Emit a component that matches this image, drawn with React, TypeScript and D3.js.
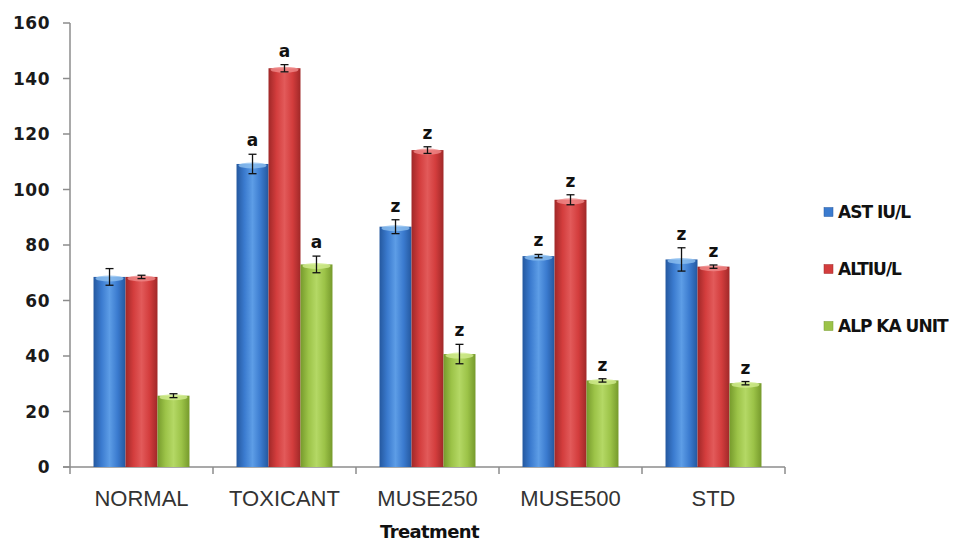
import React from "react";
import * as d3 from "d3";

const categories = ["NORMAL", "TOXICANT", "MUSE250", "MUSE500", "STD"];
const seriesNames = ["AST IU/L", "ALTIU/L", "ALP KA UNIT"];
const astValues = [68.5, 109.2, 86.6, 76.0, 74.8];
const altValues = [68.5, 143.7, 114.2, 96.3, 72.2];
const alpValues = [25.7, 73.0, 40.7, 31.2, 30.2];
const astErr = [3.0, 3.5, 2.5, 0.6, 4.2];
const altErr = [0.6, 1.3, 1.2, 1.8, 0.6];
const alpErr = [0.7, 3.0, 3.5, 0.6, 0.6];
const astLetters = ["", "a", "z", "z", "z"];
const altLetters = ["", "a", "z", "z", "z"];
const alpLetters = ["", "a", "z", "z", "z"];
const yTicks = [0, 20, 40, 60, 80, 100, 120, 140, 160];

const W = 958;
const H = 542;
const left = 70;
const right = 785;
const top = 23;
const bottom = 467;

const colors = [
  { base: "#3b7bcf", dark: "#24589f", light: "#5d9de6", cap: "#8fc0f0" },
  { base: "#d33d3d", dark: "#a02828", light: "#e25a5a", cap: "#f08a8a" },
  { base: "#9cc348", dark: "#769a2c", light: "#b4d865", cap: "#d2ec90" },
];

export default function App() {
  const values = [astValues, altValues, alpValues];
  const errs = [astErr, altErr, alpErr];
  const letters = [astLetters, altLetters, alpLetters];

  const y = d3.scaleLinear().domain([0, 160]).range([bottom, top]);
  const x0 = d3
    .scaleBand<string>()
    .domain(categories)
    .range([left, right])
    .paddingInner(0.329)
    .paddingOuter(0.1645);
  const x1 = d3
    .scaleBand<number>()
    .domain([0, 1, 2])
    .range([0, x0.bandwidth()]);
  const step = x0.step();
  const boundaries = d3.range(categories.length + 1).map((i) => left + i * step);

  return (
    <svg
      width={W}
      height={H}
      style={{ position: "absolute", left: 0, top: 0, background: "#fff" }}
    >
      <defs>
        {colors.map((c, i) => (
          <linearGradient key={i} id={`g${i}`} x1="0" x2="1" y1="0" y2="0">
            <stop offset="0" stopColor={c.dark} />
            <stop offset="0.25" stopColor={c.base} />
            <stop offset="0.5" stopColor={c.light} />
            <stop offset="0.75" stopColor={c.base} />
            <stop offset="1" stopColor={c.dark} />
          </linearGradient>
        ))}
      </defs>

      {/* y axis */}
      <line x1={left} x2={left} y1={top} y2={bottom} stroke="#8c8c8c" strokeWidth={1.5} />
      {yTicks.map((t) => (
        <g key={t}>
          <line x1={left - 7} x2={left} y1={y(t)} y2={y(t)} stroke="#8c8c8c" strokeWidth={1.5} />
          <text
            x={50}
            y={y(t)}
            dy="0.36em"
            textAnchor="end"
            fontFamily="DejaVu Sans"
            fontWeight="bold"
            fontSize={17}
            letterSpacing={0.5}
            fill="#1a1a1a"
          >
            {t}
          </text>
        </g>
      ))}

      {/* x axis */}
      <line x1={left - 7} x2={right} y1={bottom} y2={bottom} stroke="#8c8c8c" strokeWidth={1.5} />
      {boundaries.map((b, i) => (
        <line key={i} x1={b} x2={b} y1={bottom} y2={bottom + 7} stroke="#8c8c8c" strokeWidth={1.5} />
      ))}

      {/* bars */}
      {categories.map((cat, ci) => (
        <g key={cat} transform={`translate(${x0(cat)},0)`}>
          {values.map((vals, si) => {
            const bx = x1(si)!;
            const bw = x1.bandwidth();
            const v = vals[ci];
            const e = errs[si][ci];
            const cx = bx + bw / 2;
            const yt = y(v);
            return (
              <g key={si}>
                <rect x={bx} y={yt} width={bw} height={bottom - yt} fill={`url(#g${si})`} />
                <ellipse cx={cx} cy={yt + 1.5} rx={bw / 2 - 2} ry={3} fill={colors[si].cap} opacity={0.8} />
                <line x1={cx} x2={cx} y1={y(v + e)} y2={y(v - e)} stroke="#111" strokeWidth={1.3} />
                <line x1={cx - 4} x2={cx + 4} y1={y(v + e)} y2={y(v + e)} stroke="#111" strokeWidth={1.3} />
                <line x1={cx - 4} x2={cx + 4} y1={y(v - e)} y2={y(v - e)} stroke="#111" strokeWidth={1.3} />
                {letters[si][ci] && (
                  <text
                    x={cx}
                    y={y(v + e) - 8}
                    textAnchor="middle"
                    fontFamily="DejaVu Sans"
                    fontWeight="bold"
                    fontSize={17}
                    fill="#111"
                  >
                    {letters[si][ci]}
                  </text>
                )}
              </g>
            );
          })}
        </g>
      ))}

      {/* x labels */}
      {categories.map((cat) => (
        <text
          key={cat}
          x={x0(cat)! + x0.bandwidth() / 2}
          y={506}
          textAnchor="middle"
          fontFamily="Liberation Sans"
          fontSize={22}
          fill="#333"
        >
          {cat}
        </text>
      ))}
      <text
        x={(left + right) / 2 + 2}
        y={538}
        textAnchor="middle"
        fontFamily="DejaVu Sans"
        fontWeight="bold"
        fontSize={18}
        letterSpacing={-0.6}
        fill="#111"
      >
        Treatment
      </text>

      {/* legend */}
      {seriesNames.map((s, i) => {
        const ly = 212 + i * 57;
        return (
          <g key={s}>
            <rect x={824} y={ly - 4.5} width={9} height={9} fill={colors[i].base} stroke={colors[i].dark} strokeWidth={0.5} />
            <text
              x={838}
              y={ly}
              dy="0.36em"
              fontFamily="DejaVu Sans"
              fontWeight="bold"
              fontSize={17}
              letterSpacing={-1}
              fill="#111"
            >
              {s}
            </text>
          </g>
        );
      })}
    </svg>
  );
}
